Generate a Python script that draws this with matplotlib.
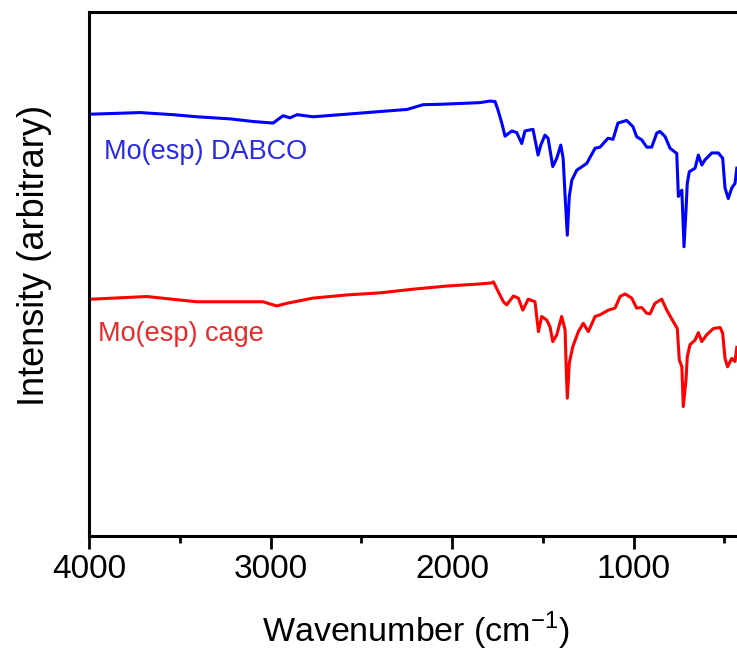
import matplotlib.pyplot as plt

plt.rcParams['font.family'] = ['Liberation Sans', 'DejaVu Sans']

# =========================
# DATA
# =========================

dabco_wn = [
    3985, 3719, 3537, 3405, 3223, 3096, 2986, 2931, 2893, 2854, 2766, 2579,
    2397, 2248, 2160, 2050, 1846, 1791, 1763, 1747, 1726, 1708, 1671, 1644,
    1616, 1598, 1554, 1526, 1511, 1488, 1471, 1445, 1423, 1401, 1388, 1377,
    1365, 1354, 1340, 1313, 1258, 1212, 1185, 1141, 1113, 1086, 1038, 1003,
    983, 955, 927, 900, 872, 854, 826, 799, 762, 753, 734, 729, 722, 711,
    704, 693, 661, 643, 624, 606, 569, 533, 509, 496, 478, 459, 441, 431
]

dabco_int = [
    80.5, 80.8, 80.4, 80.0, 79.6, 79.1, 78.8, 80.2, 79.8, 80.4, 80.0, 80.5,
    81.0, 81.4, 82.3, 82.4, 82.7, 83.0, 82.9, 81.3, 78.8, 76.3, 77.3, 77.0,
    74.9, 77.3, 77.6, 72.7, 74.6, 76.5, 75.9, 70.5, 72.1, 74.6, 72.1, 64.8,
    57.4, 64.8, 67.9, 69.8, 71.1, 74.0, 74.2, 75.9, 75.7, 78.8, 79.3, 78.1,
    76.2, 75.6, 74.2, 74.2, 76.9, 77.2, 76.2, 74.0, 73.0, 64.8, 66.0, 61.6,
    55.2, 62.2, 67.3, 69.5, 70.2, 72.7, 70.8, 71.8, 73.1, 73.1, 72.1, 66.4,
    64.4, 66.4, 67.3, 70.2
]

cage_wn = [
    3985, 3682, 3407, 3223, 3041, 2966, 2911, 2766, 2580, 2397, 2215, 2029,
    1846, 1781, 1772, 1745, 1717, 1699, 1662, 1635, 1610, 1580, 1543, 1524,
    1506, 1478, 1460, 1445, 1423, 1396, 1377, 1372, 1365, 1354, 1335, 1304,
    1277, 1249, 1212, 1185, 1139, 1102, 1074, 1047, 1010, 983, 955, 927, 909,
    882, 845, 817, 781, 759, 748, 734, 726, 711, 704, 689, 661, 643, 624,
    597, 560, 523, 509, 496, 482, 459, 441, 431
]

cage_int = [
    45.2, 45.7, 44.7, 44.7, 44.7, 43.9, 44.4, 45.4, 46.0, 46.4, 47.1, 47.7,
    48.1, 48.3, 48.5, 46.6, 44.7, 44.1, 45.8, 45.4, 43.1, 45.2, 44.7, 39.0,
    41.9, 41.2, 39.9, 37.1, 38.4, 41.9, 39.3, 33.0, 26.3, 33.0, 36.1, 39.0,
    40.6, 39.0, 41.9, 42.2, 43.1, 43.5, 45.7, 46.2, 45.4, 43.5, 43.6, 42.5,
    42.4, 44.4, 45.2, 43.1, 40.9, 39.6, 33.6, 32.3, 24.7, 29.8, 34.2, 36.5,
    37.4, 38.8, 37.1, 38.4, 39.6, 39.8, 38.7, 33.9, 32.3, 33.9, 33.3, 36.0
]

x_ticks = [4000, 3000, 2000, 1000]
x_minor = [3500, 2500, 1500, 500]

# =========================
# FIGURE
# =========================

fig = plt.figure(
    figsize=(7.37, 6.54),
    dpi=100
)

ax = fig.add_axes(
    [0.1208, 0.1804, 0.8866, 0.8013]
)

ax.plot(
    dabco_wn,
    dabco_int,
    color='#0000ff',
    lw=2.2
)

ax.plot(
    cage_wn,
    cage_int,
    color='#ff0000',
    lw=2.2
)

ax.text(
    3916, 73.2,
    'Mo(esp) DABCO',
    color='#2a2ae6',
    fontsize=19.5,
    va='center',
    ha='left'
)

ax.text(
    3952, 38.5,
    'Mo(esp) cage',
    color='#e82a2a',
    fontsize=19.5,
    va='center',
    ha='left'
)

ax.set_xlim(4000, 400)
ax.set_ylim(0, 100)

ax.set_xticks(x_ticks)
ax.set_xticks(x_minor, minor=True)
ax.set_yticks([])

ax.tick_params(
    axis='x',
    which='major',
    direction='out',
    length=9,
    width=2,
    labelsize=24,
    pad=4
)

ax.tick_params(
    axis='x',
    which='minor',
    direction='out',
    length=5,
    width=2
)

for side in ['left', 'bottom', 'top']:
    ax.spines[side].set_linewidth(2.2)

ax.spines['right'].set_visible(False)

ax.set_xlabel(
    'Wavenumber (cm$^{\\mathregular{-1}}$)',
    fontsize=24.5
)

ax.set_ylabel(
    'Intensity (arbitrary)',
    fontsize=26
)

ax.xaxis.set_label_coords(0.5, -0.141)
ax.yaxis.set_label_coords(-0.057, 0.536)

plt.savefig('out.png', dpi=100)
plt.close()
